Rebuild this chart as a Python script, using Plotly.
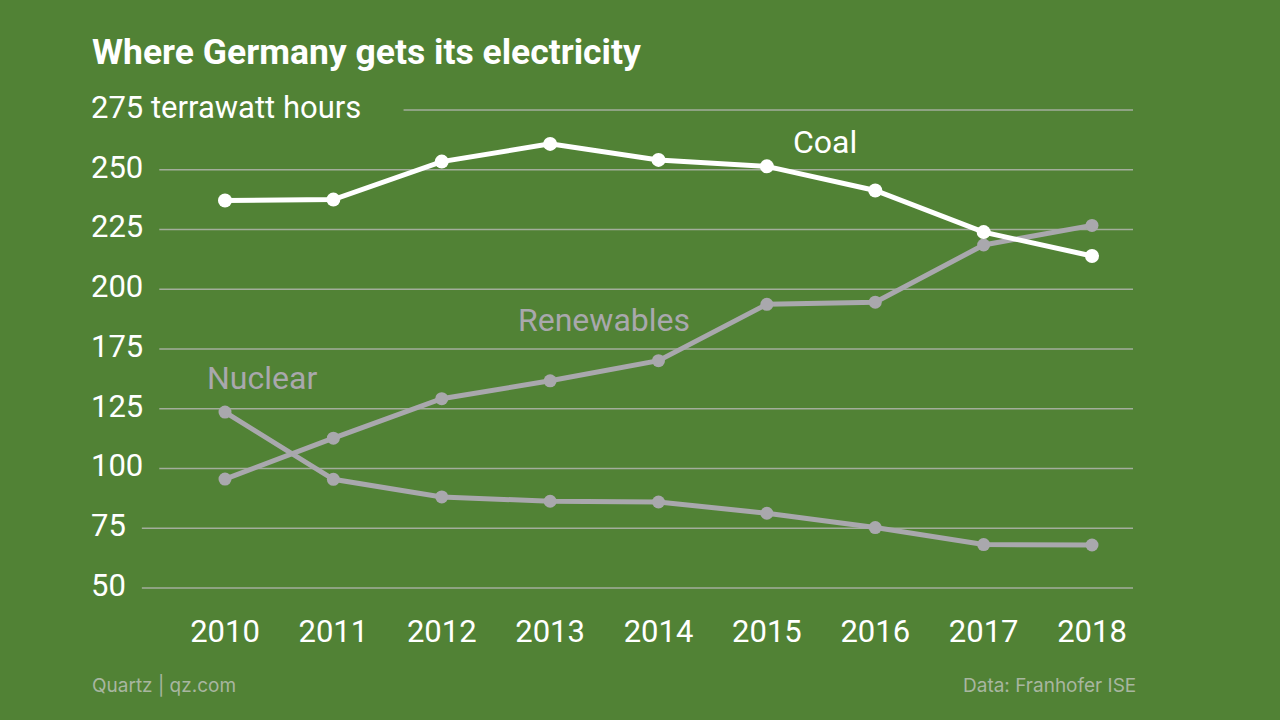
import plotly.graph_objects as go

years = [2010, 2011, 2012, 2013, 2014, 2015, 2016, 2017, 2018]
coal = [237.1, 237.5, 253.4, 260.8, 254.1, 251.4, 241.3, 223.9, 213.9]
renewables = [120.6, 137.7, 154.2, 161.7, 170.1, 193.7, 194.6, 218.5, 226.7]
nuclear = [148.6, 120.5, 113.1, 111.3, 111.0, 106.3, 100.3, 93.2, 93.0]

y_tickvals = [75, 100, 125, 150, 175, 200, 225, 250, 275]
y_ticktext = ["50", "75", "100", "125", "175", "200", "225", "250", "275 terrawatt hours"]

BG = "#518235"
GRAY = "#a9a8ad"
GRID = "#a3ad9c"
FOOT = "#a8b6a0"
TICKFONT = 31

W, H = 1280, 720
ML, MR, MT, MB = 88, 147, 98, 120
plot_w = W - ML - MR
plot_h = H - MT - MB


def px_x(px):
    return (px - ML) / plot_w


def px_y(py):
    return (H - MB - py) / plot_h


fig = go.Figure()

fig.add_trace(go.Scatter(x=years, y=nuclear, mode="lines+markers",
                         line=dict(color=GRAY, width=5), marker=dict(color=GRAY, size=13),
                         cliponaxis=False, hoverinfo="x+y", name="Nuclear"))
fig.add_trace(go.Scatter(x=years, y=renewables, mode="lines+markers",
                         line=dict(color=GRAY, width=5), marker=dict(color=GRAY, size=13),
                         cliponaxis=False, hoverinfo="x+y", name="Renewables"))
fig.add_trace(go.Scatter(x=years, y=coal, mode="lines+markers",
                         line=dict(color="white", width=5), marker=dict(color="white", size=14),
                         cliponaxis=False, hoverinfo="x+y", name="Coal"))


def label_width(t, size):
    w = 0
    for ch in t:
        if ch.isdigit():
            w += 0.562 * size
        elif ch == " ":
            w += 0.25 * size
        elif ch in "rt":
            w += 0.4 * size
        elif ch in "w":
            w += 0.78 * size
        else:
            w += 0.6 * size
    return w


# gridlines start a little after each tick label
shapes = []
for v, t in zip(y_tickvals, y_ticktext):
    start_px = 92 + label_width(t, TICKFONT) + 15
    shapes.append(dict(type="line", layer="below", xref="paper", yref="y",
                       x0=px_x(start_px), x1=1, y0=v, y1=v,
                       line=dict(color=GRID, width=1.5)))

annotations = [
    dict(text="Coal", x=2015.54, y=261.5, xref="x", yref="y", showarrow=False,
         font=dict(family="Roboto", size=32, color="white")),
    dict(text="Renewables", x=2013.5, y=187.3, xref="x", yref="y", showarrow=False,
         font=dict(family="Roboto", size=32, color=GRAY)),
    dict(text="Nuclear", x=2010.34, y=163.0, xref="x", yref="y", showarrow=False,
         font=dict(family="Roboto", size=32, color=GRAY)),
    dict(text="Quartz | qz.com", x=px_x(90), y=px_y(685), xref="paper", yref="paper",
         xanchor="left", yanchor="middle", showarrow=False,
         font=dict(family="Inter", size=19, color=FOOT)),
    dict(text="Data: Franhofer ISE", x=px_x(1138), y=px_y(685), xref="paper", yref="paper",
         xanchor="right", yanchor="middle", showarrow=False,
         font=dict(family="Inter", size=19, color=FOOT)),
]

fig.update_layout(
    width=W, height=H,
    paper_bgcolor=BG, plot_bgcolor=BG,
    margin=dict(l=ML, r=MR, t=MT, b=MB, pad=0),
    showlegend=False,
    title=dict(text="<b>Where Germany gets its electricity</b>", x=92 / W, xanchor="left",
               y=1 - 52 / H, yanchor="middle",
               font=dict(family="Roboto", size=35.5, color="white")),
    shapes=shapes,
    annotations=annotations,
    xaxis=dict(range=[2008.7359, 2018.3783], tickvals=years, ticktext=[str(y) for y in years],
               showgrid=False, zeroline=False, showline=False, ticks="",
               tickfont=dict(family="Roboto", size=TICKFONT, color="white"),
               ticklabelstandoff=10),
    yaxis=dict(range=[70, 280], tickvals=y_tickvals, ticktext=y_ticktext,
               showgrid=False, zeroline=False, showline=False,
               ticks="", ticklabelposition="inside", ticklabeloverflow="allow",
               ticklabelshift=-3,
               tickfont=dict(family="Roboto", size=TICKFONT, color="white"),
               layer="above traces"),
)

fig.write_html("out.html", post_script="document.body.style.margin='0';",
               config={"displayModeBar": False})
